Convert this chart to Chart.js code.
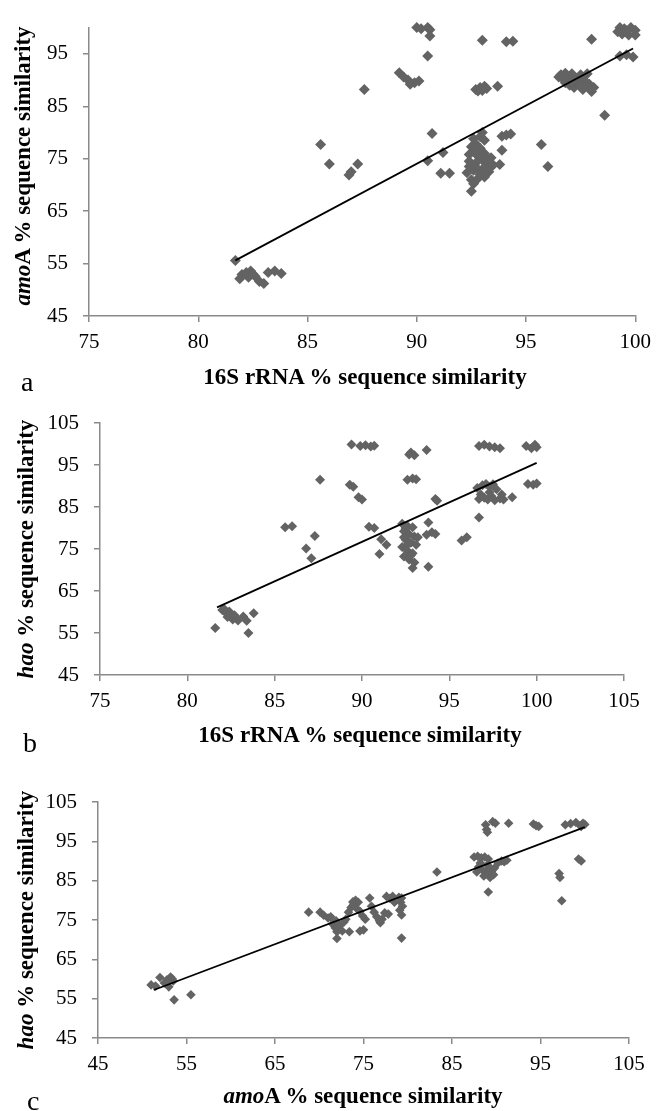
<!DOCTYPE html>
<html>
<head>
<meta charset="utf-8">
<script src="https://cdn.jsdelivr.net/npm/chart.js@4/dist/chart.umd.min.js"></script>
<style>
    html, body { margin: 0; padding: 0; background: #fff; }
    body { width: 659px; height: 1111px; position: relative; overflow: hidden;
           font-family: 'Liberation Serif', 'Times New Roman', serif; }
    .panel { position: absolute; left: 0; top: 0; width: 659px; height: 1111px; }
    .xt, .yt, .lbl { position: absolute; white-space: nowrap; line-height: 1; color: #000; }
    .xt, .yt { font-weight: bold; font-size: 23px; }
    .xt { transform: translateX(-50%); }
    .yt { transform: translate(-50%, -50%) rotate(-90deg); }
    .lbl { font-size: 28px; }
</style>
</head>
<body>
<div class="panel"><canvas id="chartA"></canvas></div>
<div class="panel"><canvas id="chartB"></canvas></div>
<div class="panel"><canvas id="chartC"></canvas></div>

<div class="yt" style="left:22px; top:166px;"><i>amo</i>A % sequence similarity</div>
<div class="xt" style="left:365px; top:365px;">16S rRNA % sequence similarity</div>
<div class="lbl" style="left:21px; top:368px;">a</div>

<div class="yt" style="left:25px; top:549px;"><i>hao</i> % sequence similarity</div>
<div class="xt" style="left:360px; top:723px;">16S rRNA % sequence similarity</div>
<div class="lbl" style="left:23px; top:729px;">b</div>

<div class="yt" style="left:25px; top:920px;"><i>hao</i> % sequence similarity</div>
<div class="xt" style="left:363px; top:1084px;"><i>amo</i>A % sequence similarity</div>
<div class="lbl" style="left:27px; top:1087px;">c</div>

<script>
// Panel a: 16S rRNA (x) vs amoA (y) similarity
const amoA_vs_16S = [
    [90.0, 100], [90.2, 99.8], [90.5, 100], [90.6, 99.6], [90.6, 98.4], [90.5, 94.6],
    [93.0, 97.6], [94.1, 97.3], [94.4, 97.4], [98.0, 97.8],
    [99.3, 100], [99.5, 99.8], [99.8, 100], [100, 99.5], [99.4, 98.8], [99.7, 98.6],
    [100, 98.6], [99.2, 99.2], [99.6, 99.4],
    [99.3, 94.6], [99.6, 94.8], [99.9, 94.4],
    [87.6, 88.2],
    [89.2, 91.4], [89.4, 90.6], [89.6, 90.0], [89.9, 89.5], [90.1, 89.8], [89.7, 89.2],
    [92.7, 88.2], [92.9, 88.6], [93.1, 88.8], [92.8, 87.9], [93.0, 88.0], [93.2, 88.4], [93.7, 88.8],
    [96.6, 91.0], [96.9, 90.5], [97.1, 91.2], [97.3, 90.2], [97.5, 91.0], [97.7, 89.8],
    [97.9, 89.2], [96.8, 89.5], [97.2, 88.6], [97.6, 88.2], [98.0, 87.8], [97.4, 89.5],
    [96.7, 90.2], [98.1, 88.6], [97.0, 89.0], [96.8, 91.3], [97.2, 90.0], [97.6, 90.6],
    [97.8, 91.2], [97.1, 89.6], [97.5, 88.9], [97.8, 88.8], [96.5, 90.6],
    [98.6, 83.3],
    [85.6, 77.7], [86.0, 74.0], [86.9, 71.9], [87.0, 72.5], [87.3, 74.0],
    [90.7, 79.8], [90.5, 74.6], [91.2, 76.2], [91.1, 72.2], [91.5, 72.2],
    [92.5, 77.3], [92.7, 77.8], [92.9, 79.2], [93.0, 80.0], [92.6, 76.5], [92.8, 75.5],
    [93.0, 74.8], [93.2, 74.0], [92.4, 73.5], [92.6, 72.8], [92.9, 72.0], [93.1, 71.5],
    [92.5, 71.0], [93.3, 73.2], [93.5, 73.8], [92.7, 74.2], [92.4, 75.8], [93.1, 76.0],
    [93.4, 75.2], [92.5, 68.8], [92.3, 72.3], [92.6, 70.2], [92.8, 73.0], [93.0, 73.0],
    [92.7, 76.0], [93.2, 75.0], [92.9, 77.0], [93.1, 78.5], [92.6, 78.8], [92.4, 74.5],
    [93.3, 72.5], [92.8, 71.2],
    [93.9, 79.3], [94.1, 79.5], [94.3, 79.7], [93.9, 76.6], [93.8, 73.9], [95.7, 77.7], [96.0, 73.5],
    [81.7, 55.6], [81.9, 52.1], [82.0, 52.9], [82.2, 53.3], [82.4, 53.6], [82.6, 52.6],
    [82.8, 51.6], [83.0, 51.2], [83.2, 53.3], [83.5, 53.6], [83.8, 53.1], [82.3, 52.4], [82.5, 53.0]
];
const trendA = [[81.7, 55.6], [99.9, 96.0]];
const ticksA_x = [75, 80, 85, 90, 95, 100];
const ticksA_y = [45, 55, 65, 75, 85, 95];

// Panel b: 16S rRNA (x) vs hao (y) similarity
const hao_vs_16S = [
    [89.4, 99.9], [89.9, 99.5], [90.2, 99.7], [90.5, 99.4], [90.7, 99.6],
    [92.7, 97.5], [92.8, 98.0], [93.0, 97.3], [93.7, 98.6],
    [96.7, 99.5], [97.0, 99.8], [97.3, 99.4], [97.6, 99.2], [97.9, 99.0],
    [99.4, 99.5], [99.7, 99.0], [99.9, 99.8], [100, 99.2],
    [99.5, 90.5], [99.8, 90.3], [100, 90.6],
    [87.6, 91.5], [89.3, 90.3], [89.5, 89.8], [89.8, 87.3], [90.0, 86.8],
    [92.6, 91.5], [92.9, 91.8], [93.1, 91.6], [94.2, 86.9], [94.3, 86.5],
    [96.6, 89.5], [96.9, 90.2], [97.1, 90.5], [97.3, 89.8], [97.5, 90.4], [97.7, 89.2],
    [96.8, 88.0], [97.0, 87.2], [97.2, 86.8], [97.4, 87.6], [97.6, 86.6], [97.9, 87.0],
    [98.1, 86.8], [97.3, 88.5], [96.7, 86.9], [98.0, 88.0], [98.6, 87.3],
    [96.7, 82.5],
    [85.6, 80.2], [86.0, 80.4], [87.3, 78.1], [86.8, 75.1], [87.1, 72.8],
    [90.4, 80.3], [90.7, 80.0], [91.1, 77.3], [91.4, 76.0], [91.0, 73.8],
    [92.3, 81.0], [92.6, 80.5], [92.9, 80.2], [92.4, 79.2], [92.7, 78.5], [93.0, 78.0],
    [92.5, 77.2], [92.8, 76.5], [93.1, 76.0], [92.3, 75.5], [92.6, 74.6], [92.9, 74.0],
    [92.4, 73.2], [92.7, 72.5], [93.0, 71.8], [92.9, 70.5], [93.2, 77.8], [92.5, 79.8],
    [92.6, 76.0], [92.8, 73.5], [92.4, 77.8],
    [93.8, 81.3], [93.7, 78.4], [94.0, 79.0], [94.2, 78.6], [93.8, 70.8],
    [95.7, 77.0], [96.0, 77.8],
    [82.0, 60.5], [82.2, 59.8], [82.4, 60.1], [82.3, 58.8], [82.6, 58.2], [82.9, 58.0],
    [83.2, 58.9], [82.5, 59.5], [82.7, 59.2], [82.1, 60.8], [83.8, 59.7], [83.4, 57.9],
    [81.6, 56.2], [83.5, 55.0]
];
const trendB = [[81.7, 61.1], [100, 95.5]];
const ticksB_x = [75, 80, 85, 90, 95, 100, 105];
const ticksB_y = [45, 55, 65, 75, 85, 95, 105];

// Panel c: amoA (x) vs hao (y) similarity
const hao_vs_amoA = [
    [88.8, 99.2], [88.9, 98.0], [89.0, 97.3], [89.6, 100], [89.9, 99.6], [91.4, 99.6],
    [94.2, 99.4], [94.5, 99.0], [94.8, 98.8],
    [97.8, 99.2], [98.4, 99.5], [99.0, 99.8], [99.5, 99.0], [99.8, 99.6], [100, 99.3], [99.6, 98.8],
    [99.3, 90.5], [99.6, 90.0], [97.1, 86.8], [97.2, 85.8], [97.4, 79.9],
    [83.3, 87.2],
    [87.5, 91.0], [87.9, 91.2], [88.3, 90.8], [88.7, 91.0], [89.1, 90.5], [88.0, 88.5],
    [88.4, 87.8], [88.8, 87.3], [89.2, 86.8], [89.5, 87.5], [89.8, 88.2], [89.0, 89.0],
    [90.2, 89.5], [90.6, 90.0], [90.9, 89.8], [91.2, 90.2], [87.8, 87.2], [88.6, 86.2],
    [89.3, 85.8], [89.7, 86.5], [89.1, 82.1], [88.2, 89.5], [89.4, 88.0],
    [68.8, 77.0], [70.1, 77.0], [70.5, 76.2], [71.0, 75.5], [71.5, 74.0], [71.8, 73.0],
    [72.0, 72.0], [72.0, 70.3], [71.3, 75.8], [72.6, 72.2], [72.8, 74.5], [73.0, 75.2],
    [73.3, 77.0], [73.4, 72.0], [73.6, 78.2], [73.9, 79.0], [74.1, 80.0], [74.4, 79.5],
    [74.2, 78.0], [74.6, 77.2], [74.9, 76.0], [75.2, 75.2], [75.0, 72.5], [74.6, 72.2],
    [75.7, 80.6], [75.9, 78.5], [76.2, 77.0], [76.5, 75.8], [76.8, 74.8], [76.9, 74.3],
    [77.1, 75.2], [77.4, 76.8], [77.8, 76.5], [77.6, 81.0], [78.0, 80.5], [78.3, 81.0],
    [78.5, 79.5], [79.0, 80.8], [79.3, 80.6], [79.2, 79.5], [79.4, 78.5], [79.1, 77.5],
    [79.3, 76.3], [79.3, 70.4], [73.8, 79.6], [74.0, 78.6], [72.3, 73.5], [71.9, 74.8],
    [51.0, 58.5], [51.5, 58.2], [52.0, 60.4], [52.5, 59.0], [53.0, 59.5], [53.2, 60.5],
    [53.4, 60.0], [53.0, 58.0], [52.8, 59.8], [53.5, 59.5], [53.6, 54.7], [55.5, 56.0]
];
const trendC = [[51.3, 57.2], [100, 98.6]];
const ticksC_x = [45, 55, 65, 75, 85, 95, 105];
const ticksC_y = [45, 55, 65, 75, 85, 95, 105];

const PAGE_W = 659, PAGE_H = 1111;
const X_AXIS_H = 40;
const AXIS_COLOR = '#8a8a8a';
const MARK_COLOR = '#636363';
const TICK_FONT = { family: "'Liberation Serif', 'Times New Roman', serif", size: 21 };

// Build one scatter panel; area is the plot rectangle in page pixels
function makePanel(canvasId, pts, trend, xRange, yRange, xTicks, yTicks, area, radius) {
    const axis = (ticks, isX) => ({
        type: 'linear',
        min: (isX ? xRange : yRange)[0],
        max: (isX ? xRange : yRange)[1],
        afterBuildTicks: s => { s.ticks = ticks.map(v => ({ value: v })); },
        afterFit: s => { if (isX) s.height = X_AXIS_H; else s.width = area.left; },
        grid: { drawOnChartArea: false, drawTicks: true, tickLength: 6, color: AXIS_COLOR, lineWidth: 1.5 },
        border: { display: true, color: AXIS_COLOR, width: 1.5 },
        ticks: { font: TICK_FONT, color: '#000', padding: isX ? 8 : 15, maxRotation: 0, autoSkip: false }
    });

    return new Chart(document.getElementById(canvasId), {
        type: 'scatter',
        data: {
            datasets: [
                {
                    data: trend.map(p => ({ x: p[0], y: p[1] })),
                    showLine: true,
                    borderColor: '#000',
                    borderWidth: 1.8,
                    pointRadius: 0,
                    tension: 0,
                    clip: false,
                    order: 0
                },
                {
                    data: pts.map(p => ({ x: p[0], y: p[1] })),
                    pointStyle: 'rectRot',
                    pointRadius: radius,
                    backgroundColor: MARK_COLOR,
                    borderColor: MARK_COLOR,
                    borderWidth: 0,
                    clip: false,
                    order: 1
                }
            ]
        },
        options: {
            responsive: true,
            maintainAspectRatio: false,
            animation: false,
            layout: {
                padding: {
                    left: 0,
                    right: PAGE_W - area.right,
                    top: area.top,
                    bottom: PAGE_H - area.bottom - X_AXIS_H
                }
            },
            plugins: { legend: { display: false }, tooltip: { enabled: false } },
            scales: { x: axis(xTicks, true), y: axis(yTicks, false) }
        }
    });
}

makePanel('chartA', amoA_vs_16S, trendA, [75, 100], [45, 100], ticksA_x, ticksA_y,
    { left: 89, right: 641, top: 16.5, bottom: 316 }, 5.5);
makePanel('chartB', hao_vs_16S, trendB, [75, 105], [45, 105], ticksB_x, ticksB_y,
    { left: 100, right: 624, top: 423, bottom: 675 }, 5);
makePanel('chartC', hao_vs_amoA, trendC, [45, 105], [45, 105], ticksC_x, ticksC_y,
    { left: 98, right: 629, top: 802, bottom: 1038 }, 4.8);
</script>
</body>
</html>
